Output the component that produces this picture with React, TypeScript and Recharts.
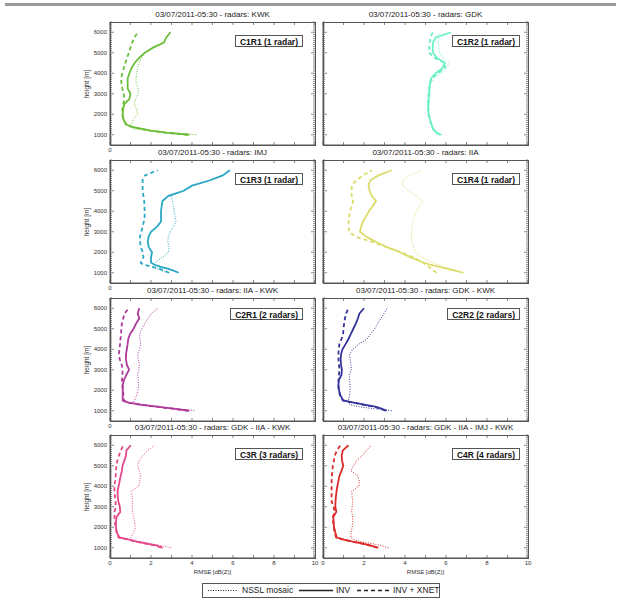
import React from 'react';
import { LineChart, Line, XAxis, YAxis } from 'recharts';

const HEIGHTS = [1000, 1100, 1200, 1300, 1400, 1500, 1750, 2000, 2250, 2500, 2750, 3000, 3250, 3500, 3750, 4000, 4250, 4500, 4750, 5000, 5250, 5500, 5750, 6000];

const C1R1_NSSL = [4.2, 2.9, 1.9, 1.1, 1.02, 1.03, 1.15, 1.35, 1.3, 1.18, 1.25, 1.38, 1.38, 1.27, 1.27, 1.3, 1.35, 1.42, 1.52, 1.72, 2.1, 2.63, 2.75, 2.95];
const C1R1_INV = [3.87, 2.75, 2.0, 1.5, 1.05, 0.8, 0.66, 0.62, 0.64, 0.7, 0.95, 1.0, 0.86, 0.86, 0.86, 0.95, 1.05, 1.2, 1.42, 1.7, 2.1, 2.63, 2.75, 2.95];
const C1R1_XNET = [3.8, 2.7, 1.95, 1.45, 1.0, 0.78, 0.64, 0.6, 0.6, 0.65, 0.7, 0.67, 0.6, 0.56, 0.54, 0.6, 0.67, 0.75, 0.83, 0.92, 1.0, 1.08, 1.2, 1.35];

const C1R2_NSSL = [5.8, 5.6, 5.5, 5.4, 5.35, 5.3, 5.2, 5.14, 5.1, 5.1, 5.13, 5.16, 5.2, 5.25, 5.4, 5.75, 6.0, 6.15, 5.85, 5.68, 5.65, 5.63, 5.63, 5.7];
const C1R2_INV = [5.76, 5.55, 5.45, 5.38, 5.33, 5.3, 5.22, 5.16, 5.14, 5.15, 5.17, 5.18, 5.2, 5.22, 5.27, 5.5, 5.82, 5.95, 5.55, 5.37, 5.35, 5.37, 5.5, 6.25];
const C1R2_XNET = [5.7, 5.53, 5.43, 5.35, 5.3, 5.28, 5.2, 5.14, 5.12, 5.12, 5.13, 5.15, 5.18, 5.2, 5.3, 5.6, 5.95, 5.95, 5.45, 5.17, 5.18, 5.2, 5.25, 5.35];

const C1R3_NSSL = [2.81, 2.5, 2.25, 2.11, 2.14, 2.2, 2.55, 2.85, 2.89, 2.82, 2.84, 2.93, 3.1, 3.22, 3.18, 3.13, 3.1, 3.05, 2.98, 3.6, 4.0, 4.85, 5.5, 5.85];
const C1R3_INV = [3.35, 3.1, 2.81, 2.43, 2.15, 2.0, 2.0, 2.05, 1.89, 1.84, 1.88, 2.0, 2.3, 2.49, 2.49, 2.49, 2.52, 2.56, 2.85, 3.6, 4.0, 4.85, 5.5, 5.85];
const C1R3_XNET = [2.89, 2.65, 2.41, 2.0, 1.6, 1.5, 1.63, 1.6, 1.5, 1.47, 1.46, 1.53, 1.59, 1.65, 1.69, 1.69, 1.68, 1.67, 1.63, 1.59, 1.59, 1.59, 1.7, 2.33];

const C1R4_NSSL = [6.85, 6.5, 6.2, 5.9, 5.62, 5.35, 4.8, 4.52, 4.41, 4.34, 4.32, 4.32, 4.35, 4.4, 4.47, 4.56, 4.7, 4.87, 4.55, 4.17, 3.88, 3.88, 4.25, 4.85];
const C1R4_INV = [6.85, 6.44, 6.04, 5.63, 5.22, 4.9, 4.28, 3.75, 3.12, 2.6, 2.13, 1.8, 1.86, 1.95, 2.1, 2.24, 2.42, 2.59, 2.38, 2.27, 2.22, 2.3, 2.7, 3.35];
const C1R4_XNET = [5.54, 5.4, 5.27, 5.14, 5.0, 4.87, 4.4, 3.8, 3.1, 2.4, 1.62, 1.27, 1.25, 1.25, 1.28, 1.31, 1.4, 1.47, 1.4, 1.4, 1.4, 1.6, 1.95, 2.4];

const C2R1_NSSL = [4.11, 3.2, 2.1, 1.3, 1.13, 1.19, 1.3, 1.36, 1.39, 1.38, 1.35, 1.4, 1.43, 1.38, 1.36, 1.43, 1.5, 1.46, 1.45, 1.55, 1.7, 1.84, 2.02, 2.33];
const C2R1_INV = [3.87, 3.1, 2.3, 1.5, 0.9, 0.62, 0.62, 0.62, 0.62, 0.68, 0.8, 0.93, 0.82, 0.78, 0.78, 0.82, 0.86, 0.89, 0.98, 1.15, 1.27, 1.43, 1.35, 1.43];
const C2R1_XNET = [3.8, 3.05, 2.25, 1.45, 0.88, 0.68, 0.66, 0.63, 0.6, 0.59, 0.6, 0.62, 0.57, 0.48, 0.43, 0.46, 0.49, 0.51, 0.54, 0.55, 0.58, 0.64, 0.72, 0.91];

const C2R2_NSSL = [3.35, 2.5, 1.7, 1.3, 1.27, 1.24, 1.3, 1.32, 1.32, 1.3, 1.28, 1.38, 1.36, 1.32, 1.3, 1.45, 1.75, 2.15, 2.33, 2.52, 2.67, 2.82, 2.98, 3.14];
const C2R2_INV = [3.11, 2.85, 2.55, 2.0, 1.5, 0.99, 0.85, 0.78, 0.75, 0.77, 0.9, 0.92, 0.88, 0.86, 0.88, 0.95, 1.1, 1.24, 1.36, 1.48, 1.6, 1.7, 1.78, 2.0];
const C2R2_XNET = [3.05, 2.8, 2.5, 1.95, 1.45, 0.97, 0.83, 0.77, 0.75, 0.76, 0.78, 0.8, 0.78, 0.76, 0.75, 0.77, 0.8, 0.9, 0.98, 1.0, 1.03, 1.07, 1.13, 1.24];

const C3R_NSSL = [2.98, 2.5, 1.95, 1.45, 1.02, 1.02, 1.15, 1.24, 1.2, 1.16, 1.1, 1.08, 1.11, 1.08, 1.03, 1.4, 1.45, 1.5, 1.42, 1.36, 1.42, 1.6, 1.85, 2.16];
const C3R_INV = [2.57, 2.3, 1.8, 1.3, 0.94, 0.46, 0.33, 0.29, 0.29, 0.32, 0.5, 0.48, 0.41, 0.38, 0.37, 0.42, 0.47, 0.52, 0.58, 0.61, 0.7, 0.78, 0.8, 1.02];
const C3R_XNET = [2.5, 2.25, 1.75, 1.25, 0.9, 0.42, 0.33, 0.27, 0.24, 0.22, 0.22, 0.28, 0.27, 0.24, 0.22, 0.21, 0.25, 0.28, 0.29, 0.31, 0.36, 0.44, 0.53, 0.65];

const C4R_NSSL = [3.19, 2.85, 2.4, 1.8, 1.5, 1.35, 1.37, 1.42, 1.46, 1.45, 1.4, 1.42, 1.45, 1.42, 1.4, 1.75, 1.77, 1.7, 1.36, 1.5, 1.64, 1.92, 2.12, 2.37];
const C4R_INV = [2.7, 2.35, 1.95, 1.45, 1.03, 0.67, 0.6, 0.54, 0.52, 0.5, 0.65, 0.6, 0.61, 0.63, 0.66, 0.7, 0.75, 0.8, 0.9, 0.99, 0.93, 0.91, 0.97, 1.24];
const C4R_XNET = [2.65, 2.3, 1.9, 1.4, 0.98, 0.64, 0.57, 0.52, 0.5, 0.48, 0.57, 0.52, 0.42, 0.42, 0.42, 0.42, 0.42, 0.43, 0.46, 0.48, 0.53, 0.58, 0.68, 0.86];

const PANEL_NAMES = ['C1R1 (1 radar)', 'C1R2 (1 radar)', 'C1R3 (1 radar)', 'C1R4 (1 radar)', 'C2R1 (2 radars)', 'C2R2 (2 radars)', 'C3R (3 radars)', 'C4R (4 radars)'];
const PANEL_TITLES = [
  '03/07/2011-05:30 - radars: KWK',
  '03/07/2011-05:30 - radars: GDK',
  '03/07/2011-05:30 - radars: IMJ',
  '03/07/2011-05:30 - radars: IIA',
  '03/07/2011-05:30 - radars: IIA - KWK',
  '03/07/2011-05:30 - radars: GDK - KWK',
  '03/07/2011-05:30 - radars: GDK - IIA - KWK',
  '03/07/2011-05:30 - radars: GDK - IIA - IMJ - KWK',
];
const PANEL_COLORS = ['#6cbf3a', '#6cf0c8', '#2aa8c4', '#dcdc6a', '#ae3a9a', '#34349a', '#e4488a', '#dc2a2a'];
const PANEL_SERIES = [
  [C1R1_NSSL, C1R1_INV, C1R1_XNET],
  [C1R2_NSSL, C1R2_INV, C1R2_XNET],
  [C1R3_NSSL, C1R3_INV, C1R3_XNET],
  [C1R4_NSSL, C1R4_INV, C1R4_XNET],
  [C2R1_NSSL, C2R1_INV, C2R1_XNET],
  [C2R2_NSSL, C2R2_INV, C2R2_XNET],
  [C3R_NSSL, C3R_INV, C3R_XNET],
  [C4R_NSSL, C4R_INV, C4R_XNET],
];

const X_TICKS = [0, 1, 2, 3, 4, 5, 6, 7, 8, 9, 10];
const X_TICK_LABELS = [0, 2, 4, 6, 8, 10];
const Y_TICKS: number[] = [500, 600, 700, 800, 900, 1000, 1100, 1200, 1300, 1400, 1500, 1600, 1700, 1800, 1900, 2000, 2100, 2200, 2300, 2400, 2500, 2600, 2700, 2800, 2900, 3000, 3100, 3200, 3300, 3400, 3500, 3600, 3700, 3800, 3900, 4000, 4100, 4200, 4300, 4400, 4500, 4600, 4700, 4800, 4900, 5000, 5100, 5200, 5300, 5400, 5500, 5600, 5700, 5800, 5900, 6000, 6100, 6200, 6300, 6400, 6500];
const Y_TICK_LABELS = [1000, 2000, 3000, 4000, 5000, 6000];

const LEGEND_LABELS = ['NSSL mosaic', 'INV', 'INV + XNET'];

// layout
const COL_LEFTS = [110, 323];
const ROW_TOPS = [22, 160, 298, 435];
const BOX_TOPS = [35, 173, 308, 448];
const BOX_RIGHTS = [303, 520];
const PLOT_W = 205;
const PLOT_H = 123;
const YW = 40;
const MT = 4;
const MR = 6;
const XH = 14;
const MB = 4;
const FRAME = '#555';
const FONT = '"Liberation Sans", Arial, Helvetica, sans-serif';

const LeftTick = (props: any) => {
  const { x, y, payload, showLabels } = props;
  const v = payload.value;
  const major = v % 1000 === 0;
  const len = major ? 4 : 2;
  return (
    <g>
      <line x1={x} y1={y} x2={x + len} y2={y} stroke={FRAME} strokeWidth={0.7} />
      <line x1={x + PLOT_W} y1={y} x2={x + PLOT_W - len} y2={y} stroke={FRAME} strokeWidth={0.7} />
      {showLabels && Y_TICK_LABELS.includes(v) ? (
        <text x={x - 3} y={y} dy="0.35em" textAnchor="end" fontSize={6} fill="#333" fontFamily={FONT}>{v}</text>
      ) : null}
    </g>
  );
};

const BottomTick = (props: any) => {
  const { x, y, payload, labels } = props;
  const v = payload.value;
  return (
    <g>
      <line x1={x} y1={y} x2={x} y2={y - 3} stroke={FRAME} strokeWidth={0.7} />
      <line x1={x} y1={y - PLOT_H} x2={x} y2={y - PLOT_H + 3} stroke={FRAME} strokeWidth={0.7} />
      {labels.includes(v) ? (
        <text x={x} y={y + 7} textAnchor="middle" fontSize={6} fill="#333" fontFamily={FONT}>{v}</text>
      ) : null}
    </g>
  );
};

const Panel = ({ idx }: { idx: number }) => {
  const row = Math.floor(idx / 2);
  const col = idx % 2;
  const [nssl, inv, xnet] = PANEL_SERIES[idx];
  const data = HEIGHTS.map((h, i) => ({ h, nssl: nssl[i], inv: inv[i], xnet: xnet[i] }));
  const color = PANEL_COLORS[idx];
  const left = COL_LEFTS[col];
  const top = ROW_TOPS[row];
  const bottomRow = row === 3;
  const xLabels = bottomRow ? X_TICK_LABELS : col === 0 ? [0] : [];
  return (
    <>
      <div style={{ position: 'absolute', left: left - YW, top: top - MT }}>
        <LineChart
          layout="vertical"
          width={YW + PLOT_W + MR}
          height={MT + PLOT_H + XH + MB}
          data={data}
          margin={{ top: MT, right: MR, bottom: MB, left: 0 }}
        >
          <XAxis
            type="number"
            domain={[0, 10]}
            ticks={X_TICKS}
            interval={0}
            height={XH}
            tickSize={0}
            tickMargin={0}
            tickLine={false}
            axisLine={{ stroke: FRAME, strokeWidth: 1 }}
            tick={<BottomTick labels={xLabels} />}
            allowDataOverflow
          />
          <YAxis
            type="number"
            dataKey="h"
            domain={[500, 6500]}
            ticks={Y_TICKS}
            interval={0}
            width={YW}
            reversed
            tickSize={0}
            tickMargin={0}
            tickLine={false}
            axisLine={{ stroke: FRAME, strokeWidth: 1 }}
            tick={<LeftTick showLabels={col === 0} />}
            allowDataOverflow
          />
          <Line dataKey="nssl" type="linear" stroke={color} strokeWidth={1} strokeDasharray="1 1.5" dot={false} isAnimationActive={false} />
          <Line dataKey="inv" type="linear" stroke={color} strokeWidth={1.8} dot={false} isAnimationActive={false} />
          <Line dataKey="xnet" type="linear" stroke={color} strokeWidth={1.8} strokeDasharray="4 3" dot={false} isAnimationActive={false} />
        </LineChart>
      </div>
      <div
        style={{
          position: 'absolute', left: left - 0.5, top: top - 0.5, width: PLOT_W + 1, height: PLOT_H + 1,
          border: `1px solid ${FRAME}`, boxSizing: 'border-box', pointerEvents: 'none',
        }}
      />
      <div
        style={{
          position: 'absolute', left: left - 10, width: PLOT_W + 20, top: top - 11, height: 8,
          lineHeight: '8px', fontSize: 8, fontFamily: FONT, color: '#222', textAlign: 'center', whiteSpace: 'nowrap',
        }}
      >
        {PANEL_TITLES[idx]}
      </div>
      <div
        style={{
          position: 'absolute', right: 621 - BOX_RIGHTS[col], top: BOX_TOPS[row], height: 12, lineHeight: '12px',
          padding: '0 4px', border: `1px solid ${FRAME}`, background: '#fff', fontSize: 8.5, fontWeight: 'bold',
          fontFamily: FONT, color: '#111', whiteSpace: 'nowrap', boxSizing: 'border-box',
        }}
      >
        {PANEL_NAMES[idx]}
      </div>
      {col === 0 ? (
        <div
          style={{
            position: 'absolute', left: 87 - 30, top: top + PLOT_H / 2 - 4, width: 60, height: 8, lineHeight: '8px',
            fontSize: 6.5, fontFamily: FONT, color: '#333', textAlign: 'center', transform: 'rotate(-90deg)', whiteSpace: 'nowrap',
          }}
        >
          height [m]
        </div>
      ) : null}
      {bottomRow ? (
        <div
          style={{
            position: 'absolute', left: left, width: PLOT_W, top: 568, height: 8, lineHeight: '8px',
            fontSize: 6, fontFamily: FONT, color: '#333', textAlign: 'center',
          }}
        >
          RMSE [dB(Z)]
        </div>
      ) : null}
    </>
  );
};

const legendText = (left: number): React.CSSProperties => ({
  position: 'absolute', left, top: 0, lineHeight: '13px', fontSize: 8.5, fontFamily: FONT, color: '#222', whiteSpace: 'nowrap',
});

const Legend = () => (
  <div
    style={{
      position: 'absolute', left: 202, top: 583, width: 238, height: 15, border: `1px solid ${FRAME}`,
      boxSizing: 'border-box', background: '#fff',
    }}
  >
    <svg width={236} height={13} style={{ position: 'absolute', left: 0, top: 0 }}>
      <line x1={5} y1={6.5} x2={35} y2={6.5} stroke="#222" strokeWidth={1} strokeDasharray="1 1.5" />
      <line x1={96} y1={6.5} x2={130} y2={6.5} stroke="#222" strokeWidth={1.6} />
      <line x1={154} y1={6.5} x2={186} y2={6.5} stroke="#222" strokeWidth={1.6} strokeDasharray="4 3" />
    </svg>
    <span style={legendText(39)}>{LEGEND_LABELS[0]}</span>
    <span style={legendText(133)}>{LEGEND_LABELS[1]}</span>
    <span style={legendText(190)}>{LEGEND_LABELS[2]}</span>
  </div>
);

export default function App() {
  return (
    <div style={{ position: 'absolute', left: 0, top: 0, width: 621, height: 605, background: '#fff', overflow: 'hidden' }}>
      <div style={{ position: 'absolute', left: 5, top: 3, width: 611, height: 3, background: '#9a9a9a' }} />
      {PANEL_NAMES.map((_, i) => (
        <Panel key={i} idx={i} />
      ))}
      <Legend />
    </div>
  );
}
